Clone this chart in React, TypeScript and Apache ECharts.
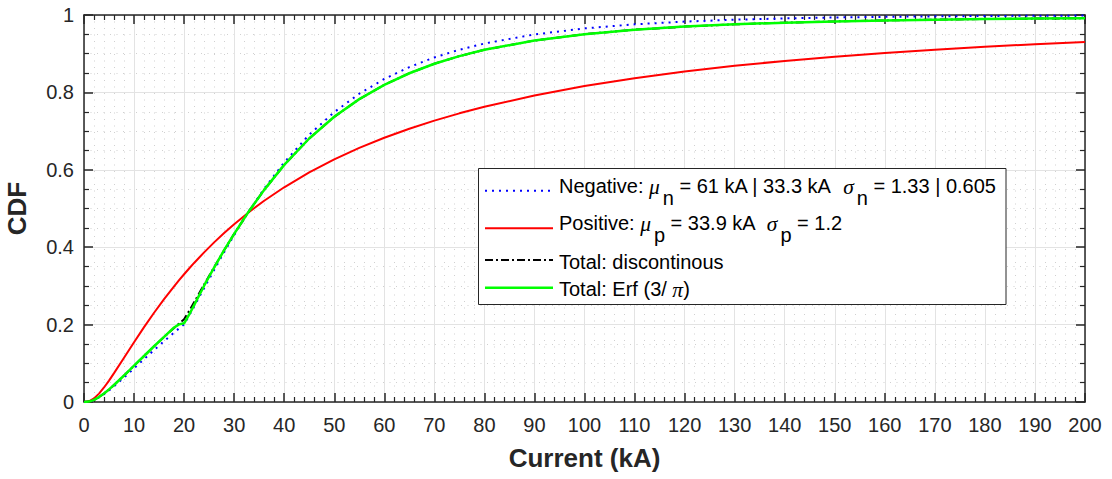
import React, { useEffect, useRef } from "react";
import * as echarts from "echarts";

// Current values (kA); 20 appears twice: left and right limit of the piecewise fit
const currentKA = [0, 1, 2, 3, 4, 5, 6, 8, 10, 12, 14, 16, 18, 19, 20, 20, 21, 22, 24, 26, 28, 30, 33, 36, 40, 45, 50, 55, 60, 65, 70, 75, 80, 90, 100, 110, 120, 130, 140, 150, 160, 170, 180, 190, 200];

const negativeCDF = [0, 0.001, 0.0051, 0.0118, 0.0203, 0.03, 0.0406, 0.0633, 0.087, 0.1107, 0.1343, 0.1572, 0.1794, 0.1902, 0.2009, 0.1997, 0.223, 0.2466, 0.2942, 0.3412, 0.3872, 0.4315, 0.494, 0.5512, 0.6191, 0.6907, 0.7491, 0.7965, 0.8347, 0.8654, 0.8903, 0.9102, 0.9263, 0.9498, 0.9654, 0.9759, 0.9829, 0.9878, 0.9912, 0.9936, 0.9953, 0.9965, 0.9974, 0.998, 0.9985];

const positiveCDF = [0, 0.0017, 0.0092, 0.0217, 0.0375, 0.0553, 0.0745, 0.1144, 0.1545, 0.1934, 0.2306, 0.2658, 0.2989, 0.3147, 0.3301, 0.3301, 0.3449, 0.3593, 0.3867, 0.4125, 0.4367, 0.4595, 0.4911, 0.52, 0.5548, 0.5933, 0.627, 0.6566, 0.6829, 0.7062, 0.7271, 0.7459, 0.7628, 0.7921, 0.8163, 0.8367, 0.8539, 0.8687, 0.8814, 0.8924, 0.902, 0.9105, 0.9179, 0.9245, 0.9304];

const totalDiscontinuousCDF = [0, 0.0011, 0.0055, 0.0128, 0.0221, 0.0325, 0.044, 0.0684, 0.0938, 0.1189, 0.144, 0.1681, 0.1914, 0.2027, 0.2138, 0.2127, 0.2352, 0.2578, 0.3035, 0.3484, 0.3922, 0.4344, 0.4937, 0.5481, 0.6127, 0.6809, 0.7369, 0.7826, 0.8195, 0.8495, 0.874, 0.8938, 0.91, 0.934, 0.9505, 0.962, 0.97, 0.9759, 0.9802, 0.9834, 0.986, 0.988, 0.9895, 0.9907, 0.9917];

const totalErfCDF = [0, 0.0011, 0.0055, 0.0128, 0.0221, 0.0325, 0.044, 0.0684, 0.0938, 0.1189, 0.144, 0.1681, 0.1925, 0.2005, 0.2035, 0.2035, 0.2255, 0.2505, 0.3005, 0.3475, 0.3922, 0.4344, 0.4937, 0.5481, 0.6127, 0.6809, 0.7369, 0.7826, 0.8195, 0.8495, 0.874, 0.8938, 0.91, 0.934, 0.9505, 0.962, 0.97, 0.9759, 0.9802, 0.9834, 0.986, 0.988, 0.9895, 0.9907, 0.9917];

const xRange = { min: 0, max: 200, interval: 10 };
const yRange = { min: 0, max: 1, interval: 0.2 };

const legendRows = [
  "{t|Negative: }{g|μ}{s|n}{t| = 61 kA | 33.3 kA  }{g|σ}{s|n}{t| = 1.33 | 0.605}",
  "{t|Positive: }{g|μ}{s|p}{t| = 33.9 kA  }{g|σ}{s|p}{t| = 1.2}",
  "{t|Total: discontinous}",
  "{t|Total: Erf (3/ }{g|π}{t|)}",
];

const FONT = "'Liberation Sans', Arial, Helvetica, sans-serif";
const INK = "#262626";

function pairs(ys: number[]) {
  return currentKA.map((x, i) => [x, ys[i]]);
}

export default function App() {
  const ref = useRef<HTMLDivElement>(null);

  useEffect(() => {
    if (!ref.current) return;
    const chart = echarts.init(ref.current, undefined, { renderer: "svg" });

    const axisCommon = {
      type: "value" as const,
      axisLine: { show: true, onZero: false, lineStyle: { color: INK, width: 1.5 } },
      axisTick: { show: true, inside: true, length: 9, lineStyle: { color: INK, width: 1.5 } },
      minorTick: { show: true, length: 5, lineStyle: { color: INK, width: 1.2 } },
    };

    const richStyles = {
      t: { fontFamily: FONT, fontSize: 20, color: "#000", lineHeight: 22, verticalAlign: "top" },
      g: { fontFamily: "'Liberation Serif', 'DejaVu Serif', serif", fontStyle: "italic", fontSize: 21.5, color: "#000", lineHeight: 22, verticalAlign: "top" },
      s: { fontFamily: FONT, fontSize: 20, color: "#000", verticalAlign: "top", padding: [12, 0, 0, 3] },
    };

    const rowTops = [176, 213, 252, 279];
    const sampleY = [190.7, 228.3, 260, 287.7];
    const sampleStyles = [
      { stroke: "#0000ff", lineWidth: 2, lineDash: [2, 5] },
      { stroke: "#ff0000", lineWidth: 2 },
      { stroke: "#000000", lineWidth: 2, lineDash: [8, 3, 2, 3] },
      { stroke: "#00ff00", lineWidth: 2.5 },
    ];

    const graphics: any[] = [
      {
        type: "rect",
        z: 100,
        shape: { x: 478.5, y: 168.5, width: 527.5, height: 136 },
        style: { fill: "#ffffff", stroke: INK, lineWidth: 1 },
      },
    ];
    legendRows.forEach((txt, i) => {
      graphics.push({
        type: "line",
        z: 101,
        shape: { x1: 485, y1: sampleY[i], x2: 553, y2: sampleY[i] },
        style: sampleStyles[i],
      });
      graphics.push({
        type: "text",
        z: 101,
        x: 559,
        y: rowTops[i],
        style: {
          text: txt,
          rich: richStyles,
          fill: "#000",
          font: `20px ${FONT}`,
          verticalAlign: "top",
          align: "left",
        },
      });
    });

    chart.setOption({
      animation: false,
      backgroundColor: "#ffffff",
      grid: { left: 84, right: 27, top: 15, bottom: 77, containLabel: false, outerBoundsMode: "none" },
      xAxis: [
        {
          ...axisCommon,
          position: "bottom",
          min: xRange.min,
          max: xRange.max,
          interval: xRange.interval,
          minorTick: { ...axisCommon.minorTick, splitNumber: 5 },
          axisLabel: { color: INK, fontSize: 20, fontFamily: FONT, margin: 13 },
          splitLine: { show: true, lineStyle: { color: "#e3e3e3", width: 1 } },
          minorSplitLine: { show: true, lineStyle: { color: "#d0d0d0", width: 1, type: [1, 5.5] } },
          name: "Current (kA)",
          nameLocation: "middle",
          nameGap: 43,
          nameTextStyle: { color: INK, fontSize: 26, fontWeight: "bold", fontFamily: FONT },
        },
        {
          ...axisCommon,
          position: "top",
          min: xRange.min,
          max: xRange.max,
          interval: xRange.interval,
          minorTick: { ...axisCommon.minorTick, splitNumber: 5 },
          axisLabel: { show: false },
          splitLine: { show: false },
        },
      ],
      yAxis: [
        {
          ...axisCommon,
          position: "left",
          min: yRange.min,
          max: yRange.max,
          interval: yRange.interval,
          minorTick: { ...axisCommon.minorTick, splitNumber: 4 },
          axisLabel: { color: INK, fontSize: 20, fontFamily: FONT, margin: 10 },
          splitLine: { show: true, lineStyle: { color: "#e3e3e3", width: 1 } },
          minorSplitLine: { show: true, lineStyle: { color: "#d0d0d0", width: 1, type: [1, 5.5] } },
          name: "CDF",
          nameLocation: "middle",
          nameGap: 54,
          nameTextStyle: { color: INK, fontSize: 26, fontWeight: "bold", fontFamily: FONT },
        },
        {
          ...axisCommon,
          position: "right",
          min: yRange.min,
          max: yRange.max,
          interval: yRange.interval,
          minorTick: { ...axisCommon.minorTick, splitNumber: 4 },
          axisLabel: { show: false },
          splitLine: { show: false },
        },
      ],
      series: [
        {
          name: "Negative",
          type: "line",
          data: pairs(negativeCDF),
          showSymbol: false,
          symbol: "none",
          lineStyle: { color: "#0000ff", width: 2, type: [2, 5] },
          z: 2,
        },
        {
          name: "Positive",
          type: "line",
          data: pairs(positiveCDF),
          showSymbol: false,
          symbol: "none",
          lineStyle: { color: "#ff0000", width: 2 },
          z: 3,
        },
        {
          name: "Total: discontinous",
          type: "line",
          data: pairs(totalDiscontinuousCDF),
          showSymbol: false,
          symbol: "none",
          lineStyle: { color: "#000000", width: 2, type: [8, 3, 2, 3] },
          z: 4,
        },
        {
          name: "Total: Erf",
          type: "line",
          data: pairs(totalErfCDF),
          showSymbol: false,
          symbol: "none",
          lineStyle: { color: "#00ff00", width: 2.5 },
          z: 5,
        },
      ],
      graphic: graphics,
    });

    return () => chart.dispose();
  }, []);

  return (
    <div
      ref={ref}
      style={{ position: "absolute", left: 0, top: 0, width: 1112, height: 479 }}
    />
  );
}
